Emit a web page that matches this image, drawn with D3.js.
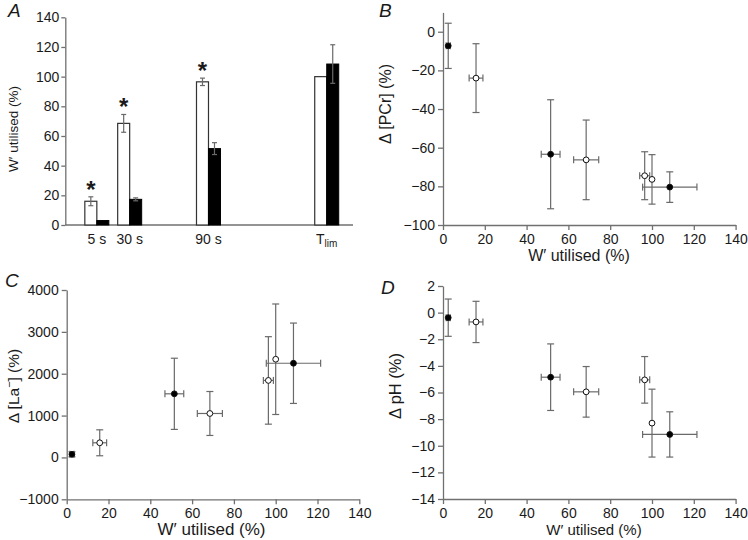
<!DOCTYPE html>
<html><head><meta charset="utf-8">
<script src="https://cdn.jsdelivr.net/npm/d3@7"></script>
<style>
html,body{margin:0;padding:0;background:#fff;}
svg{display:block;font-family:"Liberation Sans",Arial,Helvetica,sans-serif;}
</style></head>
<body><svg id="chart" width="748" height="540"></svg>
<script>
// ---------- Panel A data ----------
const barCategories = ["5 s", "30 s", "90 s", "Tlim"];
const barTimes = [5, 30, 90, 180];            // s (Tlim placed after 90 s)
const openBarValues = [16, 68.5, 96.5, 100];
const openBarErrors = [3, 6, 2.5, 0];
const filledBarValues = [3, 17.3, 51.5, 108.5];
const filledBarErrors = [0, 1, 4, 13];
const significant = [true, true, true, false];
const barYTicks = [0, 20, 40, 60, 80, 100, 120, 140];

// ---------- Scatter data (shared x) ----------
const openX = [15.8, 68.5, 96.5, 100];
const openXErr = [3.3, 6, 2.4, 0];
const filledX = [2.5, 51.5, 108.5];
const filledXErr = [1, 4.5, 13];
const scatterXTicks = [0, 20, 40, 60, 80, 100, 120, 140];

// B: Δ[PCr] (%)
const pcrOpen = [-24, -66.3, -74.5, -76.4];
const pcrOpenErr = [17.8, 20.6, 12.4, 12.8];
const pcrFilled = [-7.3, -63.4, -80.4];
const pcrFilledErr = [11.7, 28.2, 7.9];
const pcrTicks = [-100, -80, -60, -40, -20, 0];

// C: Δ[La-] (%)
const laOpen = [350, 1050, 1840, 2346];
const laOpenErr = [310, 525, 1045, 1320];
const laFilled = [75, 1520, 2250];
const laFilledErr = [60, 850, 960];
const laTicks = [-1000, 0, 1000, 2000, 3000, 4000];

// D: ΔpH (%)
const phOpen = [-0.7, -5.95, -5.05, -8.3];
const phOpenErr = [1.55, 1.9, 1.75, 2.55];
const phFilled = [-0.38, -4.85, -9.15];
const phFilledErr = [1.4, 2.5, 1.7];
const phTicks = [-14, -12, -10, -8, -6, -4, -2, 0, 2];

// ---------- styles ----------
const AXIS = "#707070", ERR = "#6a6a6a", TXT = "#1a1a1a";
const svg = d3.select("#chart");

function styleAxis(g){
  g.select(".domain").attr("stroke", AXIS).attr("stroke-width", 1.3);
  g.selectAll(".tick line").attr("stroke", AXIS).attr("stroke-width", 1.3);
  g.selectAll(".tick text").attr("fill", TXT).attr("font-size", 14)
    .attr("font-family", '"Liberation Sans",Arial,sans-serif');
}
function panelLetter(t, x, y){
  svg.append("text").attr("x", x).attr("y", y).text(t)
    .attr("font-size", 19).attr("font-style", "italic").attr("fill", TXT);
}
function yTitle(parts, x, y, size){
  const t = svg.append("text").attr("transform", `translate(${x},${y}) rotate(-90)`)
    .attr("text-anchor", "middle").attr("font-size", size).attr("fill", TXT);
  parts.forEach(p => {
    const s = t.append("tspan").text(p.t);
    if (p.sup) s.attr("baseline-shift", "super").attr("font-size", size*0.7);
  });
}
function xTitle(x, y, size){
  svg.append("text").attr("x", x).attr("y", y).attr("text-anchor", "middle")
    .attr("font-size", size).attr("fill", TXT).text("W\u2032 utilised (%)");
}

// ---------- Panel A ----------
(function(){
  const x = d3.scaleLinear().domain([-19, 200]).range([65.3, 353]);
  const y = d3.scaleLinear().domain([0, 140]).range([225, 17.3]);
  const bw = 12;
  const g = svg.append("g");
  const ya = g.append("g").attr("transform", `translate(${x.range()[0]},0)`)
    .call(d3.axisLeft(y).tickValues(barYTicks).tickSize(4).tickPadding(2).tickSizeOuter(0));
  styleAxis(ya);
  g.append("line").attr("x1", x.range()[0]).attr("x2", x.range()[1])
    .attr("y1", y(0)).attr("y2", y(0)).attr("stroke", AXIS).attr("stroke-width", 1.3);

  barTimes.forEach((t, i) => {
    const cx = x(t);
    g.append("rect").attr("x", cx - bw).attr("y", y(openBarValues[i]))
      .attr("width", bw).attr("height", y(0) - y(openBarValues[i]))
      .attr("fill", "#fff").attr("stroke", "#333").attr("stroke-width", 1.2);
    g.append("rect").attr("x", cx).attr("y", y(filledBarValues[i]))
      .attr("width", bw).attr("height", y(0) - y(filledBarValues[i]))
      .attr("fill", "#000").attr("stroke", "#000").attr("stroke-width", 1);
    const errs = [[cx - bw/2, openBarValues[i], openBarErrors[i]],
                  [cx + bw/2, filledBarValues[i], filledBarErrors[i]]];
    errs.forEach(([ex, v, e]) => {
      if (e <= 0) return;
      const top = y(v + e), bot = y(v - e);
      g.append("line").attr("x1", ex).attr("x2", ex).attr("y1", top).attr("y2", bot)
        .attr("stroke", ERR).attr("stroke-width", 1.2);
      [top, bot].forEach(yy => g.append("line").attr("x1", ex - 2.5).attr("x2", ex + 2.5)
        .attr("y1", yy).attr("y2", yy).attr("stroke", ERR).attr("stroke-width", 1.2));
    });
    if (significant[i]) {
      g.append("text").attr("x", cx - bw/2).attr("y", y(openBarValues[i] + openBarErrors[i]) + 1)
        .attr("text-anchor", "middle").attr("font-size", 24).attr("font-weight", "bold")
        .attr("fill", TXT).text("*");
    }
    const lab = g.append("text").attr("x", cx).attr("y", 244).attr("text-anchor", "middle")
      .attr("font-size", 14).attr("fill", TXT);
    if (barCategories[i] === "Tlim") {
      lab.append("tspan").text("T");
      lab.append("tspan").attr("font-size", 10).attr("dy", 3).text("lim");
    } else lab.text(barCategories[i]);
  });
  yTitle([{t: "W\u2032 utilised (%)"}], 18, 129, 13.5);
  panelLetter("A", 8, 17);
})();

// ---------- scatter helper ----------
function scatterPanel(cfg){
  const x = d3.scaleLinear().domain([0, 140]).range([cfg.left, cfg.left + 292.6]);
  const y = d3.scaleLinear().domain(cfg.yDomain).range(cfg.yRange);
  const g = svg.append("g");
  const ya = g.append("g").attr("transform", `translate(${cfg.left},0)`)
    .call(d3.axisLeft(y).tickValues(cfg.yTicks).tickSize(5).tickPadding(3).tickSizeOuter(0)
      .tickFormat(d => d < 0 ? "\u2212" + Math.abs(d) : d));
  styleAxis(ya);
  const xa = g.append("g").attr("transform", `translate(0,${cfg.yRange[0]})`)
    .call(d3.axisBottom(x).tickValues(scatterXTicks).tickSize(5).tickPadding(4).tickSizeOuter(0));
  styleAxis(xa);

  const pts = [];
  openX.forEach((v, i) => pts.push({x: v, xe: openXErr[i], y: cfg.open[i], ye: cfg.openErr[i], filled: false}));
  cfg.filled.forEach((v, i) => pts.push({x: filledX[i], xe: filledXErr[i], y: v, ye: cfg.filledErr[i], filled: true}));

  pts.forEach(p => {
    const cx = x(p.x), cy = y(p.y);
    if (p.ye > 0) {
      const t = y(p.y + p.ye), b = y(p.y - p.ye);
      g.append("line").attr("x1", cx).attr("x2", cx).attr("y1", t).attr("y2", b)
        .attr("stroke", ERR).attr("stroke-width", 1.2);
      [t, b].forEach(yy => g.append("line").attr("x1", cx - 3.5).attr("x2", cx + 3.5)
        .attr("y1", yy).attr("y2", yy).attr("stroke", ERR).attr("stroke-width", 1.2));
    }
    if (p.xe > 0) {
      const l = x(p.x - p.xe), r = x(p.x + p.xe);
      g.append("line").attr("x1", l).attr("x2", r).attr("y1", cy).attr("y2", cy)
        .attr("stroke", ERR).attr("stroke-width", 1.2);
      [l, r].forEach(xx => g.append("line").attr("x1", xx).attr("x2", xx)
        .attr("y1", cy - 3.5).attr("y2", cy + 3.5).attr("stroke", ERR).attr("stroke-width", 1.2));
    }
  });
  pts.forEach(p => {
    g.append("circle").attr("cx", x(p.x)).attr("cy", y(p.y)).attr("r", 2.9)
      .attr("fill", p.filled ? "#000" : "#fff").attr("stroke", "#111").attr("stroke-width", 1);
  });
  xTitle(cfg.xTitleX, cfg.yRange[0] + 36, cfg.xTitleSize);
  yTitle(cfg.yTitle, cfg.yTitleX, cfg.yTitleY, cfg.yTitleSize);
  panelLetter(cfg.letter, cfg.letterX, cfg.letterY);
}

scatterPanel({left: 443, yDomain: [-100, 10], yRange: [225, 12.4], yTicks: pcrTicks,
  open: pcrOpen, openErr: pcrOpenErr, filled: pcrFilled, filledErr: pcrFilledErr,
  xTitleX: 579, xTitleSize: 16,
  yTitle: [{t: "\u0394 [PCr] (%)"}], yTitleX: 391, yTitleY: 104, yTitleSize: 16,
  letter: "B", letterX: 379, letterY: 17});
scatterPanel({left: 66.7, yDomain: [-1000, 4000], yRange: [499.3, 290], yTicks: laTicks,
  open: laOpen, openErr: laOpenErr, filled: laFilled, filledErr: laFilledErr,
  xTitleX: 211.5, xTitleSize: 17,
  yTitle: [{t: "\u0394 [La"}, {t: "\u2212", sup: true}, {t: "] (%)"}], yTitleX: 19, yTitleY: 386, yTitleSize: 15.5,
  letter: "C", letterX: 5, letterY: 287});
scatterPanel({left: 443, yDomain: [-14, 2], yRange: [499, 286], yTicks: phTicks,
  open: phOpen, openErr: phOpenErr, filled: phFilled, filledErr: phFilledErr,
  xTitleX: 594, xTitleSize: 15,
  yTitle: [{t: "\u0394 pH (%)"}], yTitleX: 401, yTitleY: 386, yTitleSize: 16.5,
  letter: "D", letterX: 381, letterY: 294});
</script></body></html>
